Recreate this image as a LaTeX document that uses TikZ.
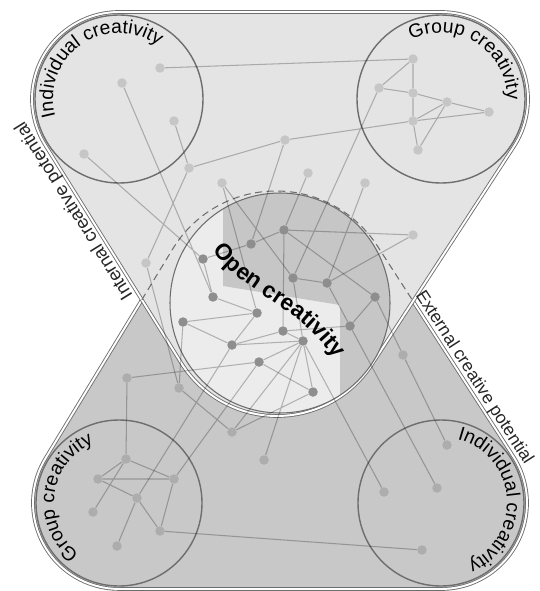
\documentclass[tikz,border=0pt]{standalone}
\usepackage{fontspec}
\setmainfont{Liberation Sans}
\usetikzlibrary{decorations.text}

\definecolor{fondoarriba}{HTML}{E4E4E4}
\definecolor{fondoabajo}{HTML}{C8C8C8}
\definecolor{nucleo}{HTML}{ECECEC}
\definecolor{franja}{HTML}{C6C6C6}
\definecolor{borde}{HTML}{6E6E6E}
\definecolor{puntoclaro}{HTML}{C6C6C6}
\definecolor{puntomedio}{HTML}{ADADAD}
\definecolor{puntooscuro}{HTML}{8E8E8E}

\pgfdeclarelayer{fondo}
\pgfdeclarelayer{enlaces}
\pgfsetlayers{fondo,enlaces,main}

\begin{document}
\begin{tikzpicture}[x=0.02cm, y=-0.02cm, line join=round]
  \useasboundingbox (0,0) rectangle (539,591);

  % Estilos
  \tikzset{
    dot/.style={circle, inner sep=0pt, minimum size=1.9mm},
    topdot/.style={dot, fill=puntoclaro},
    coredot/.style={dot, fill=puntooscuro},
    botdot/.style={dot, fill=puntomedio},
    link/.style={draw=black, draw opacity=0.25, line width=0.6pt},
    rim/.style={draw=borde, line width=0.5pt, double=white, double distance=1.1pt},
    ring/.style={draw=borde, line width=0.8pt},
    arclabel/.style={decorate, decoration={text along path, text align=center,
      text={|\fontsize{11}{13}\selectfont|#1}}},
    sidelabel/.style={inner sep=0pt, text=black!85},
  }

  % Centros de los circulos
  \coordinate (TL) at (119,99);
  \coordinate (TR) at (441,99);
  \coordinate (BL) at (119,503);
  \coordinate (BR) at (441,503);
  \coordinate (C) at (280,303);

  \begin{pgfonlayer}{fondo}
    % Forma inferior (potencial externo)
    \path[fill=fondoabajo, rim] (119,589) -- (441,589)
      arc[start angle=90, end angle=-32.85, radius=86] -- (377.65,246.4)
      arc[start angle=-32.85, end angle=-148.72, radius=121] -- (45.5,458.3)
      arc[start angle=211.28, end angle=90, radius=86] -- cycle;
    % Forma superior (potencial interno)
    \path[fill=fondoarriba, rim] (119,12) -- (441,12)
      arc[start angle=-90, end angle=33.1, radius=87] -- (371.67,364.7)
      arc[start angle=33.1, end angle=148.03, radius=113] -- (45.2,145.07)
      arc[start angle=148.03, end angle=270, radius=87] -- cycle;

    % Nucleo abierto
    \fill[nucleo] (C) circle[radius=110];
    \begin{scope}
      \clip (C) circle[radius=110];
      \fill[franja] (223,180) -- (420,180) -- (420,420) -- (340,420) -- (340,305) -- (223,286) -- cycle;
    \end{scope}
    \draw[borde, line width=0.6pt] (C) circle[radius=110];

    % Contorno oculto
    \draw[borde, line width=0.6pt, dash pattern=on 4pt off 2.6pt] (141.8,299.8) -- (172.57,249.16)
      arc[start angle=-148.72, end angle=-32.85, radius=121] -- (413.1,301.2);

    % Circulos de grupo
    \draw[ring] (TL) circle[radius=84] (TR) circle[radius=84];
    \draw[ring] (BL) circle[radius=83] (BR) circle[radius=83];
  \end{pgfonlayer}

  % Puntos de arriba
  \node[topdot] (A1) at (160,68) {};
  \node[topdot] (A2) at (122,83) {};
  \node[topdot] (A3) at (174,121) {};
  \node[topdot] (A4) at (84,154) {};
  \node[topdot] (A5) at (189,168) {};
  \node[topdot] (A6) at (222,183) {};
  \node[topdot] (L1) at (146,263) {};
  \node[topdot] (T1) at (285,140) {};
  \node[topdot] (T2) at (308,173) {};
  \node[topdot] (T3) at (365,183) {};
  \node[topdot] (T4) at (413,235) {};
  \node[topdot] (G1) at (413,59) {};
  \node[topdot] (G2) at (379,88) {};
  \node[topdot] (G3) at (413,93) {};
  \node[topdot] (G4) at (447,102) {};
  \node[topdot] (G5) at (489,112) {};
  \node[topdot] (G6) at (413,121) {};
  \node[topdot] (G7) at (418,150) {};

  % Puntos del nucleo
  \node[coredot] (C1) at (284,230) {};
  \node[coredot] (C2) at (251,244) {};
  \node[coredot] (C3) at (203,259) {};
  \node[coredot] (C4) at (293,278) {};
  \node[coredot] (C5) at (327,283) {};
  \node[coredot] (C6) at (213,297) {};
  \node[coredot] (C7) at (375,297) {};
  \node[coredot] (C8) at (257,313) {};
  \node[coredot] (C9) at (183,322) {};
  \node[coredot] (C10) at (350,326) {};
  \node[coredot] (C11) at (283,331) {};
  \node[coredot] (C12) at (303,341) {};
  \node[coredot] (C13) at (232,345) {};
  \node[coredot] (C14) at (259,362) {};
  \node[coredot] (C15) at (313,392) {};

  % Puntos de abajo
  \node[botdot] (B1) at (179,388) {};
  \node[botdot] (B2) at (127,378) {};
  \node[botdot] (B3) at (126,459) {};
  \node[botdot] (B4) at (232,432) {};
  \node[botdot] (B5) at (264,460) {};
  \node[botdot] (B6) at (137,498) {};
  \node[botdot] (B7) at (174,479) {};
  \node[botdot] (B8) at (98,479) {};
  \node[botdot] (B9) at (93,512) {};
  \node[botdot] (B10) at (160,531) {};
  \node[botdot] (B11) at (117,546) {};
  \node[botdot] (R0) at (403,355) {};
  \node[botdot] (R1) at (447,445) {};
  \node[botdot] (R2) at (437,488) {};
  \node[botdot] (R3) at (422,550) {};
  \node[botdot] (R4) at (384,492) {};

  % Enlaces
  \begin{pgfonlayer}{enlaces}
    \draw[link] (A1) -- (G1) (A2) -- (C6) (A4) -- (C3) (A3) -- (A5)
      (A5) -- (T1) (A5) -- (L1) (A6) -- (C4) (A6) -- (C8)
      (T1) -- (G6) (T1) -- (C2) (T2) -- (C1) (G2) -- (C4)
      (T3) -- (C5) (T4) -- (C1) (T4) -- (C5) (L1) -- (B1);
    \draw[link] (G1) -- (G2) (G1) -- (G3) (G2) -- (G3) (G3) -- (G4)
      (G3) -- (G6) (G4) -- (G5) (G4) -- (G6) (G6) -- (G5)
      (G6) -- (G7) (G4) -- (G7);
    \draw[link] (C1) -- (C2) (C2) -- (C3) (C3) -- (C6) (C6) -- (C8)
      (C8) -- (C9) (C9) -- (C13) (C13) -- (C8) (C13) -- (C11)
      (C1) -- (C11) (C1) -- (C7) (C4) -- (C5) (C5) -- (C10)
      (C10) -- (C11) (C10) -- (C7) (C4) -- (C12) (C11) -- (C12)
      (C12) -- (C13) (C12) -- (C14) (C12) -- (C15) (C14) -- (C15);
    \draw[link] (C9) -- (B1) (B1) -- (B4) (B4) -- (C15) (B4) -- (C12)
      (B5) -- (C12) (B2) -- (C14) (B2) -- (B3) (B6) -- (C13)
      (B7) -- (C14) (C7) -- (R0) (R0) -- (R1) (C10) -- (R2)
      (C12) -- (R4) (B10) -- (R3);
    \draw[link] (B3) -- (B8) (B3) -- (B7) (B8) -- (B7) (B8) -- (B6)
      (B3) -- (B9) (B6) -- (B11) (B6) -- (B10) (B7) -- (B10);
  \end{pgfonlayer}

  % Etiquetas de los circulos
  \path[arclabel={Individual creativity}] (TL) ++(160:66) arc[start angle=160, end angle=311, radius=66];
  \path[arclabel={Group creativity}] (TR) ++(227:66) arc[start angle=227, end angle=377, radius=66];
  \path[arclabel={Group creativity}] (BL) ++(112.5:65) arc[start angle=112.5, end angle=262.5, radius=65];
  \path[arclabel={Individual creativity}] (BR) ++(-80:66) arc[start angle=-80, end angle=70.5, radius=66];
  \path[decorate, decoration={text along path, text align=center,
      text={|\fontsize{13}{15}\selectfont\bfseries|Open creativity}}]
    (210,247) .. controls (241,295) and (296,300) .. (338,363);

  % Etiquetas laterales
  \node[sidelabel, font=\fontsize{10.5}{12}\selectfont, rotate=122, anchor=base west] (interno)
    at (133.4,295.6) {Internal creative potential};
  \node[sidelabel, font=\fontsize{10}{12}\selectfont, rotate=-57.14, anchor=base west] (externo)
    at (415.1,295.1) {External creative potential};

\end{tikzpicture}
\end{document}
